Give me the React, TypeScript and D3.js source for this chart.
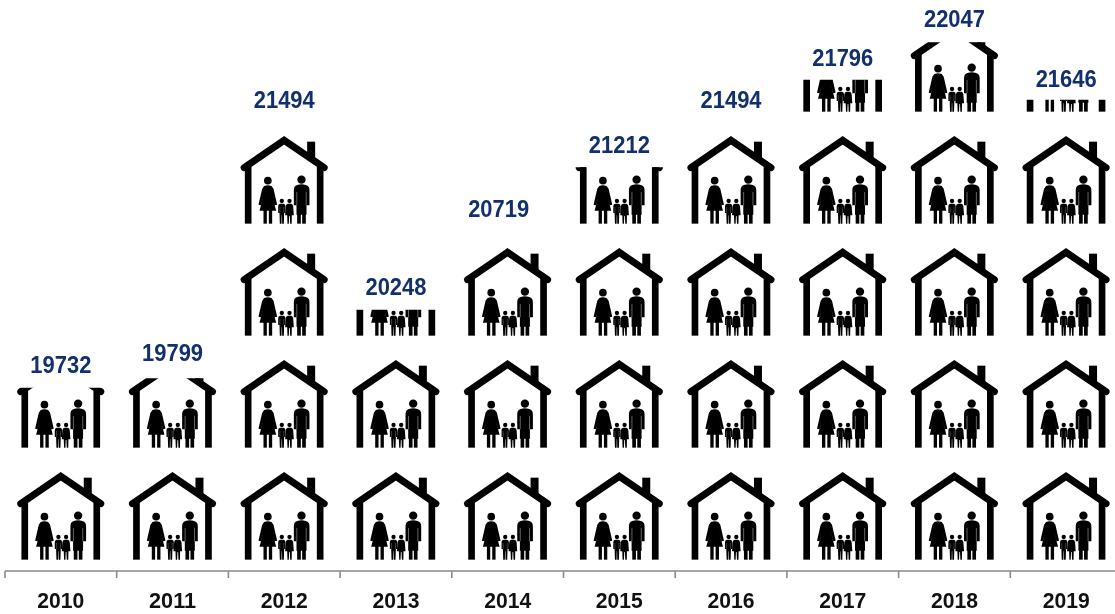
import React from "react";
import * as d3 from "d3";

const years = ["2010","2011","2012","2013","2014","2015","2016","2017","2018","2019"];
const values = [19732,19799,21494,20248,20719,21212,21494,21796,22047,21646];
// number of houses stacked in each column (fraction = visible share of the top house)
const houseCounts = [1.68,1.79,4,2.29,3,3.64,4,4.36,4.79,4.13];
// centre height of each value label, in house units above the baseline
const labelLevels = [1.74,1.84,4.10,2.43,3.13,3.70,4.10,4.48,4.83,4.29];
// sideways nudge of a value label off its column centre, in px
const labelNudges = [0,0,0,0,-9,0,0,0,0,0];

const W = 1115, H = 614;
const AXIS_Y = 571, BASE = 559, PITCH = 112, ICON_H = 87, ICON_W = 87.5;

const x = d3.scaleBand<string>().domain(years).range([5, 5 + 111.7 * years.length]);
const y = d3.scaleLinear().domain([0, 5]).range([BASE, BASE - 5 * PITCH]);

function House() {
  // drawn in 3x units, origin at the top-left of the icon
  return (
    <g transform="scale(0.3333)" fill="#000">
      <path d="M11 95 L131 13 L251 95" fill="none" stroke="#000" strokeWidth={21} strokeLinecap="round" strokeLinejoin="miter" />
      <rect x={200} y={17} width={24} height={55} />
      <rect x={13} y={92} width={20} height={171} />
      <rect x={229} y={92} width={20} height={171} />
      {/* woman */}
      <circle cx={82} cy={134} r={11.5} />
      <path d="M71 150 Q82 146 93 150 L99 158 L110 206 L103 208 L96 182 L107 224 L57 224 L68 182 L61 208 L54 206 L65 158 Z" />
      <rect x={69} y={222} width={10} height={41} />
      <rect x={85} y={222} width={10} height={41} />
      {/* man */}
      <circle cx={183} cy={131} r={12.5} />
      <path d="M170 147 Q183 143 196 147 Q207 150 207 163 L207 208 L198 208 L198 236 L168 236 L168 208 L160 208 L160 163 Q160 150 170 147Z" />
      <path d="M169 168 V208 M197 168 V208" stroke="#fff" strokeWidth={1.5} opacity={0.8} />
      <rect x={170} y={232} width={11} height={31} />
      <rect x={185} y={232} width={11} height={31} />
      {/* boy */}
      <circle cx={124} cy={195} r={6.5} />
      <path d="M119 203 L129 203 Q135 204 135 211 L135 231 L131 231 L130 263 L125 263 L124.5 238 L123.5 238 L123 263 L118 263 L117 231 L113 231 L113 211 Q113 204 119 203Z" />
      <path d="M118 213 V231 M130 213 V231" stroke="#fff" strokeWidth={1} opacity={0.7} />
      {/* girl */}
      <circle cx={147} cy={195} r={6.5} />
      <path d="M142 203 L152 203 Q157 204 158 211 L160 238 L154 238 L153.5 263 L149 263 L148 240 L146 240 L145 263 L141 263 L140 238 L134 238 L136 211 Q137 204 142 203Z" />
    </g>
  );
}

export default function App() {
  const cols = years.map((yr, i) => {
    const n = houseCounts[i];
    const full = Math.floor(n);
    const frac = n - full;
    const cx = x(yr)! + x.bandwidth() / 2;
    const icons = d3.range(full + (frac > 0 ? 1 : 0)).map((k) => ({
      k,
      bottom: y(k),
      share: k < full ? 1 : frac,
    }));
    return { yr, i, cx, icons };
  });

  return (
    <svg width={W} height={H} viewBox={`0 0 ${W} ${H}`}
      style={{ position: "absolute", left: 0, top: 0, display: "block", background: "#fff", filter: "blur(0.45px)" }}>
      <defs>
        {cols.flatMap((c) => c.icons.filter((d) => d.share < 1).map((d) => (
          <clipPath id={`clip-${c.yr}`} key={c.yr}>
            <rect x={-2} y={ICON_H * (1 - d.share)} width={ICON_W + 4} height={ICON_H * d.share + 2} />
          </clipPath>
        )))}
      </defs>

      {cols.map((c) => (
        <g key={c.yr}>
          {c.icons.map((d) => (
            <g key={d.k} transform={`translate(${c.cx - ICON_W / 2},${d.bottom - ICON_H})`}>
              <g clipPath={d.share < 1 ? `url(#clip-${c.yr})` : undefined}><House /></g>
            </g>
          ))}
          <text x={c.cx + labelNudges[c.i]} y={y(labelLevels[c.i]) + 8.5} textAnchor="middle"
            fontFamily="'Liberation Sans', Arial, sans-serif" fontWeight={700} fontSize={23} fill="#12306e"
            textLength={61} lengthAdjust="spacingAndGlyphs">
            {values[c.i]}
          </text>
          <text x={c.cx} y={608} textAnchor="middle"
            fontFamily="'Liberation Sans', Arial, sans-serif" fontWeight={700} fontSize={22} fill="#111"
            textLength={47} lengthAdjust="spacingAndGlyphs">
            {c.yr}
          </text>
        </g>
      ))}

      <line x1={x(years[0])} x2={W} y1={AXIS_Y} y2={AXIS_Y} stroke="#8a8a8a" strokeWidth={1.6} />
      {years.map((yr) => (
        <line key={yr} x1={x(yr)} x2={x(yr)} y1={AXIS_Y} y2={AXIS_Y + 7} stroke="#8a8a8a" strokeWidth={1.6} />
      ))}
    </svg>
  );
}
